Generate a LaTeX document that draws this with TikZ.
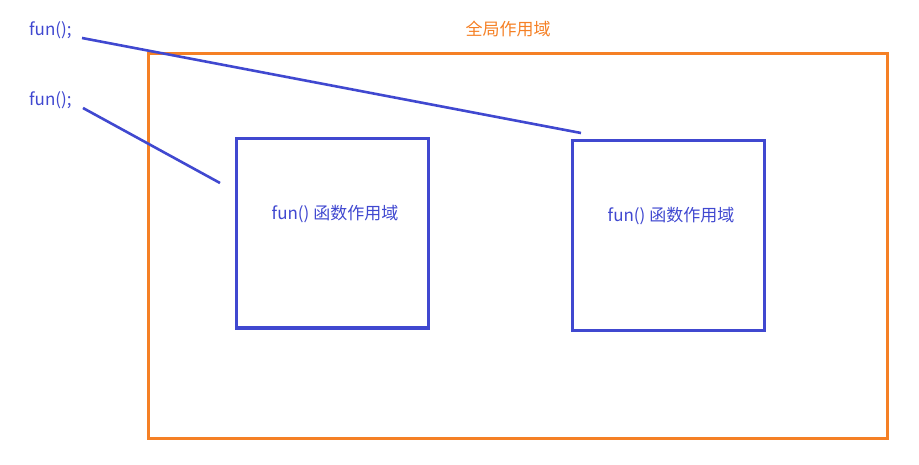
\documentclass[tikz,border=0pt]{standalone}
\usepackage{fontspec}
\setmainfont{Noto Sans CJK SC}
\definecolor{blu}{RGB}{64,72,208}
\definecolor{org}{RGB}{245,128,37}
\begin{document}
\begin{tikzpicture}[x=1pt,y=-1pt,
  scopebox/.style={draw=blu,line width=3pt},
  lbl/.style={text=blu,font=\fontsize{17}{20}\selectfont,inner sep=0pt},
  conn/.style={draw=blu,line width=2.6pt}]
\useasboundingbox (0,0) rectangle (919,465);
\draw[draw=org,line width=3pt] (148,54) rectangle (887,438);
\node[text=org,font=\fontsize{17}{20}\selectfont,inner sep=0pt] (gt) at (508,29) {全局作用域};
\node[scopebox,minimum width=192pt,minimum height=189pt,inner sep=0pt] (b1) at (332,233.5) {};
\node[scopebox,minimum width=192pt,minimum height=189pt,inner sep=0pt] (b2) at (668,235.5) {};
\node[lbl] (t1) at (335,214) {fun() 函数作用域};
\node[lbl] (t2) at (671,216) {fun() 函数作用域};
\node[lbl,anchor=west] (f1) at (29,30) {fun();};
\node[lbl,anchor=west] (f2) at (29,100) {fun();};
\coordinate (s1) at (82,38);
\coordinate (e1) at (581,133);
\coordinate (s2) at (83,108);
\coordinate (e2) at (220,183);
\draw[conn] (s1) -- (e1);
\draw[conn] (s2) -- (e2);
\end{tikzpicture}
\end{document}
